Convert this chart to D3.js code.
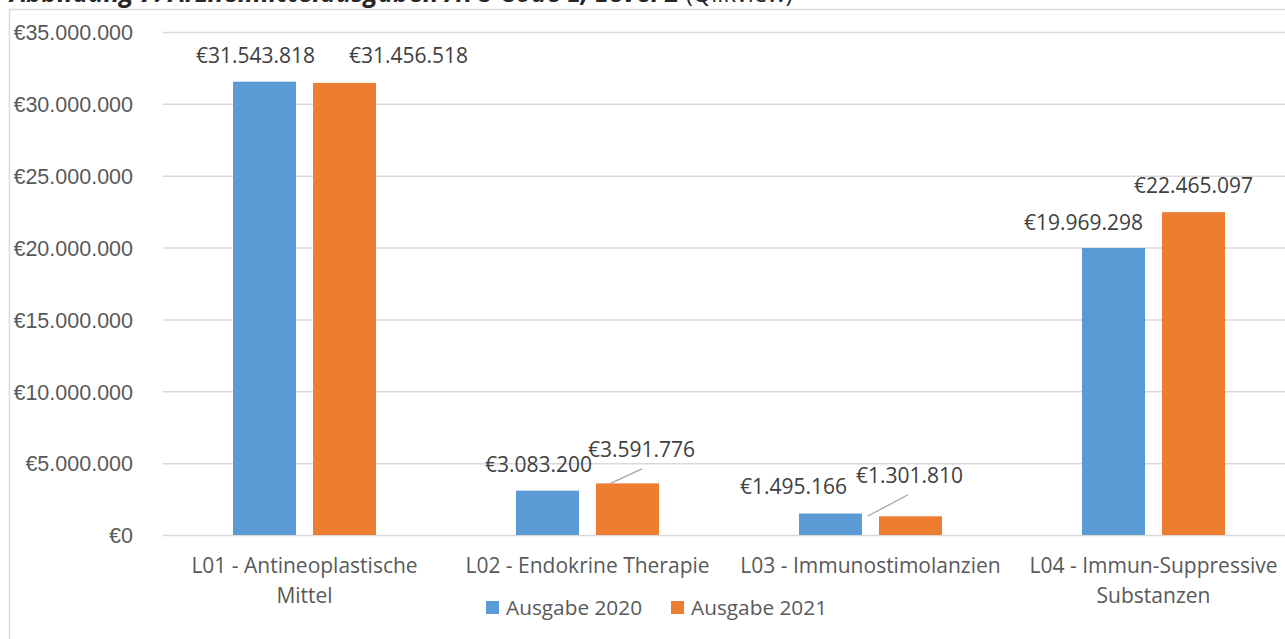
<!DOCTYPE html>
<meta charset="utf-8">
<style>
  body { margin: 0; background: #fff; }
  svg { display: block; font-family: "Open Sans", sans-serif; }
  .tick text { font-size: 21.5px; fill: #595959; }
  .grid line { stroke: #d9d9d9; stroke-width: 1.5px; }
  .label { font-size: 21px; fill: #404040; text-anchor: middle; }
  .cat { font-size: 21px; fill: #595959; text-anchor: middle; }
  .legend text { font-size: 20.8px; fill: #595959; }
</style>
<svg width="1285" height="639"></svg>
<script src="https://d3js.org/d3.v7.min.js"></script>
<script>

  // data
  var categories = ["L01 - Antineoplastische Mittel", "L02 - Endokrine Therapie", "L03 - Immunostimolanzien", "L04 - Immun-Suppressive Substanzen"];
  var categoryLines = [["L01 - Antineoplastische", "Mittel"], ["L02 - Endokrine Therapie"], ["L03 - Immunostimolanzien"], ["L04 - Immun-Suppressive", "Substanzen"]];
  var seriesNames = ["Ausgabe 2020", "Ausgabe 2021"];
  var ausgabe2020 = [31543818, 3083200, 1495166, 19969298];
  var ausgabe2021 = [31456518, 3591776, 1301810, 22465097];
  var yTicks = [0, 5000000, 10000000, 15000000, 20000000, 25000000, 30000000, 35000000];

  // label placement (moved labels like in the original), offset from bar centre / bar top
  var labelShift = [
    [[-9, -19], [64, -20]],
    [[-9, -19], [14, -26]],
    [[-37, -20], [-1, -33]],
    [[-30, -18], [0, -19]]
  ];
  // leader lines: [series, category]
  var leaders = [[1, 1], [1, 2]];

  var colors = ["#5b9bd5", "#ed7d31"];

  var svg = d3.select("svg");

  var x0 = 163, x1 = 1295, yTop = 32, yBottom = 535;

  // frame
  svg.append("rect")
    .attr("x", 9.5).attr("y", 9.5)
    .attr("width", 1300).attr("height", 700)
    .attr("fill", "none").attr("stroke", "#d9d9d9").attr("stroke-width", 1.5);

  // title (partly cut off at the top, as in the source)
  var title = svg.append("text").attr("x", 10).attr("y", 2)
    .style("fill", "#262626");
  var tb = title.append("tspan").style("font-weight", "bold").style("font-style", "italic")
    .style("font-size", "20px")
    .text("Abbildung 7: Arzneimittelausgaben ATC-Code L, Level 2");
  var tn = title.append("tspan").style("font-size", "20px").text(" (Qlikview)");
  tb.style("font-size", (20 * 670 / tb.node().getComputedTextLength()) + "px");
  tn.style("font-size", (20 * 113 / tn.node().getComputedTextLength()) + "px");

  var x = d3.scaleBand().domain(categories).range([x0, x1]).padding(0);
  var xs = d3.scaleBand().domain(seriesNames).range([70, 213]).paddingInner(0.2125);
  var y = d3.scaleLinear().domain([0, 35000000]).range([yBottom, yTop]);

  var fmt = function(v) { return "€" + d3.format(",")(v).replace(/,/g, "."); };

  // grid + y axis
  svg.append("g").attr("class", "grid")
    .attr("transform", "translate(" + x0 + ",0)")
    .call(d3.axisLeft(y).tickValues(yTicks).tickSize(-(1285 - x0)).tickFormat(""))
    .call(function(g) { g.select(".domain").remove(); });

  svg.append("g")
    .attr("transform", "translate(" + 133 + ",0)")
    .call(d3.axisLeft(y).tickValues(yTicks).tickSize(0).tickPadding(0).tickFormat(fmt))
    .call(function(g) { g.select(".domain").remove(); })
    .selectAll("text").attr("dy", "0.36em");

  var series = [ausgabe2020, ausgabe2021];

  series.forEach(function(vals, s) {
    svg.append("g").selectAll("rect")
      .data(vals).enter().append("rect")
      .attr("x", function(d, i) { return x(categories[i]) + xs(seriesNames[s]); })
      .attr("y", function(d) { return y(d); })
      .attr("width", xs.bandwidth())
      .attr("height", function(d) { return yBottom - y(d); })
      .attr("fill", colors[s]);

    svg.append("g").selectAll("text")
      .data(vals).enter().append("text")
      .attr("class", "label")
      .attr("x", function(d, i) { return x(categories[i]) + xs(seriesNames[s]) + xs.bandwidth() / 2 + labelShift[i][s][0]; })
      .attr("y", function(d, i) { return y(d) + labelShift[i][s][1]; })
      .text(fmt);
  });

  // leader lines
  leaders.forEach(function(l) {
    var s = l[0], i = l[1], v = series[s][i];
    var cx = x(categories[i]) + xs(seriesNames[s]) + xs.bandwidth() / 2 + labelShift[i][s][0];
    var ly = y(v) + labelShift[i][s][1];
    var endX = i === 1 ? cx - 31 : cx - 42;
    svg.append("line")
      .attr("x1", cx + (i === 1 ? 0.5 : -1.5)).attr("y1", ly + 11.5)
      .attr("x2", endX).attr("y2", y(v))
      .attr("stroke", "#a6a6a6").attr("stroke-width", 1.3);
  });

  // category labels
  var cat = svg.append("g").selectAll("text")
    .data(categories).enter().append("text")
    .attr("class", "cat")
    .attr("transform", function(d) { return "translate(" + (x(d) + x.bandwidth() / 2) + ",573)"; });
  cat.selectAll("tspan")
    .data(function(d, i) { return categoryLines[i]; })
    .enter().append("tspan")
    .attr("x", 0).attr("y", function(d, j) { return j * 30; })
    .text(function(d) { return d; });

  // legend
  var legendX = [486, 671];
  var legend = svg.append("g").attr("class", "legend").selectAll("g")
    .data(seriesNames).enter().append("g")
    .attr("transform", function(d, i) { return "translate(" + legendX[i] + ",601)"; });
  legend.append("rect").attr("width", 13).attr("height", 13)
    .attr("fill", function(d, i) { return colors[i]; });
  legend.append("text").attr("x", 20).attr("y", 14).text(function(d) { return d; });

</script>
